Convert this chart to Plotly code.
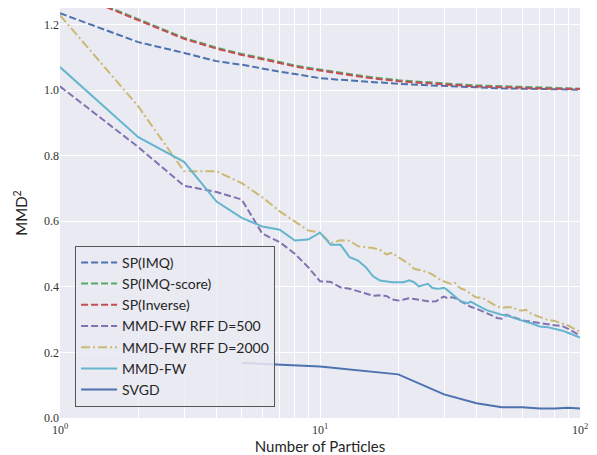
import plotly.graph_objects as go

# ---------------- data ----------------
n_sp = [1, 2, 3, 4, 5, 6, 7, 8, 9, 10, 12, 15, 20, 25, 30, 40, 50, 60, 70, 80, 90, 100]
sp_imq = [1.234, 1.146, 1.113, 1.088, 1.077, 1.065, 1.056, 1.049, 1.043, 1.036, 1.031, 1.025,
          1.019, 1.015, 1.012, 1.008, 1.005, 1.004, 1.003, 1.002, 1.002, 1.001]
sp_inverse = [1.310, 1.212, 1.156, 1.126, 1.107, 1.094, 1.082, 1.072, 1.065, 1.059, 1.050, 1.038,
              1.027, 1.021, 1.017, 1.011, 1.008, 1.007, 1.005, 1.004, 1.004, 1.003]
sp_imq_score = [1.313, 1.215, 1.159, 1.129, 1.110, 1.097, 1.085, 1.075, 1.068, 1.062, 1.053, 1.041,
                1.030, 1.024, 1.020, 1.014, 1.011, 1.009, 1.007, 1.006, 1.005, 1.004]

n_fw = list(range(1, 41)) + [42, 44, 46, 48, 50, 52, 55, 58, 60, 62, 65, 70, 75, 80, 85, 90, 95, 100]
rff_500 = [1.011, 0.826, 0.708, 0.689, 0.666, 0.562, 0.536, 0.501, 0.460, 0.417,
           0.415, 0.398, 0.394, 0.387, 0.379, 0.373, 0.374, 0.372, 0.361, 0.358,
           0.361, 0.365, 0.363, 0.360, 0.358, 0.356, 0.355, 0.356, 0.365, 0.370,
           0.365, 0.368, 0.366, 0.360, 0.353, 0.347, 0.344, 0.339, 0.337, 0.333,
           0.326, 0.320, 0.312, 0.305, 0.303, 0.315, 0.308, 0.302, 0.298, 0.296,
           0.293, 0.290, 0.286, 0.283, 0.281, 0.272, 0.263, 0.252]
rff_2000 = [1.228, 0.950, 0.752, 0.752, 0.716, 0.673, 0.630, 0.598, 0.572, 0.565,
            0.533, 0.542, 0.540, 0.524, 0.521, 0.518, 0.513, 0.499, 0.504, 0.490,
            0.480, 0.470, 0.455, 0.452, 0.450, 0.445, 0.438, 0.429, 0.422, 0.416,
            0.412, 0.409, 0.412, 0.401, 0.394, 0.391, 0.384, 0.380, 0.372, 0.367,
            0.367, 0.358, 0.348, 0.340, 0.336, 0.338, 0.338, 0.328, 0.328, 0.330,
            0.318, 0.309, 0.299, 0.296, 0.288, 0.282, 0.272, 0.262]
mmd_fw = [1.070, 0.856, 0.781, 0.660, 0.610, 0.584, 0.574, 0.541, 0.544, 0.565,
          0.528, 0.528, 0.490, 0.480, 0.460, 0.432, 0.419, 0.416, 0.414, 0.414,
          0.414, 0.420, 0.414, 0.401, 0.404, 0.409, 0.397, 0.394, 0.395, 0.397,
          0.389, 0.379, 0.370, 0.362, 0.355, 0.352, 0.350, 0.355, 0.350, 0.343,
          0.336, 0.328, 0.323, 0.318, 0.315, 0.313, 0.306, 0.300, 0.295, 0.293,
          0.289, 0.279, 0.277, 0.272, 0.267, 0.260, 0.252, 0.245]

n_svgd = [5, 10, 20, 30, 40, 50, 60, 70, 80, 90, 100]
svgd = [0.168, 0.157, 0.133, 0.072, 0.045, 0.033, 0.033, 0.029, 0.029, 0.031, 0.029]

x_tickvals = [1, 10, 100]
x_ticktext = ["10<sup>0</sup>", "10<sup>1</sup>", "10<sup>2</sup>"]
y_tickvals = [0.0, 0.2, 0.4, 0.6, 0.8, 1.0, 1.2]
y_ticktext = ["0.0", "0.2", "0.4", "0.6", "0.8", "1.0", "1.2"]

# ---------------- figure ----------------
fig = go.Figure()
W = 2
fig.add_trace(go.Scatter(x=n_sp, y=sp_imq, mode="lines", name="SP(IMQ)",
                         line=dict(color="#4C72B0", width=W, dash="7px,3px")))
fig.add_trace(go.Scatter(x=n_sp, y=sp_imq_score, mode="lines", name="SP(IMQ-score)",
                         line=dict(color="#55A868", width=W, dash="7px,3px")))
fig.add_trace(go.Scatter(x=n_sp, y=sp_inverse, mode="lines", name="SP(Inverse)",
                         line=dict(color="#C44E52", width=W, dash="7px,3px")))
fig.add_trace(go.Scatter(x=n_fw, y=rff_500, mode="lines", name="MMD-FW RFF D=500",
                         line=dict(color="#8172B2", width=W, dash="7px,3px")))
fig.add_trace(go.Scatter(x=n_fw, y=rff_2000, mode="lines", name="MMD-FW RFF D=2000",
                         line=dict(color="#CCB974", width=W, dash="9px,3px,2px,3px")))
fig.add_trace(go.Scatter(x=n_fw, y=mmd_fw, mode="lines", name="MMD-FW",
                         line=dict(color="#64B5CD", width=W)))
fig.add_trace(go.Scatter(x=n_svgd, y=svgd, mode="lines", name="SVGD",
                         line=dict(color="#4C72B0", width=W)))

minor_vals = [v * d for d in (1, 10) for v in range(2, 10)]

fig.update_layout(
    width=597, height=455,
    margin=dict(l=60, r=17, t=8, b=37),
    paper_bgcolor="white",
    plot_bgcolor="#EAEAF2",
    font=dict(family="Lato", size=14, color="#262626"),
    showlegend=True,
    legend=dict(x=0.029, y=0.42, xanchor="left", yanchor="top",
                bgcolor="rgba(234,234,242,0.85)", bordercolor="#555555", borderwidth=1,
                font=dict(family="Lato", size=14, color="#262626"),
                itemwidth=36, tracegroupgap=0),
)
fig.update_xaxes(
    type="log", range=[0, 2], automargin=False,
    tickvals=x_tickvals, ticktext=x_ticktext, ticklabelstandoff=3,
    tickfont=dict(family="Liberation Serif", size=12, color="#333333"),
    showgrid=True, gridcolor="white", gridwidth=1.2,
    minor=dict(tickvals=minor_vals, showgrid=True, gridcolor="white", gridwidth=1, ticks=""),
    zeroline=False, showline=False, ticks="",
    title=dict(text="Number of Particles", font=dict(family="Lato", size=15), standoff=9),
)
fig.update_yaxes(
    range=[0, 1.25], automargin=False,
    tickvals=y_tickvals, ticktext=y_ticktext,
    tickfont=dict(family="Liberation Serif", size=12, color="#333333"),
    showgrid=True, gridcolor="white", gridwidth=1.2,
    zeroline=False, showline=False, ticks="",
    title=dict(text="MMD<sup>2</sup>", font=dict(family="Lato", size=15), standoff=12),
)

fig.write_html("out.html")
